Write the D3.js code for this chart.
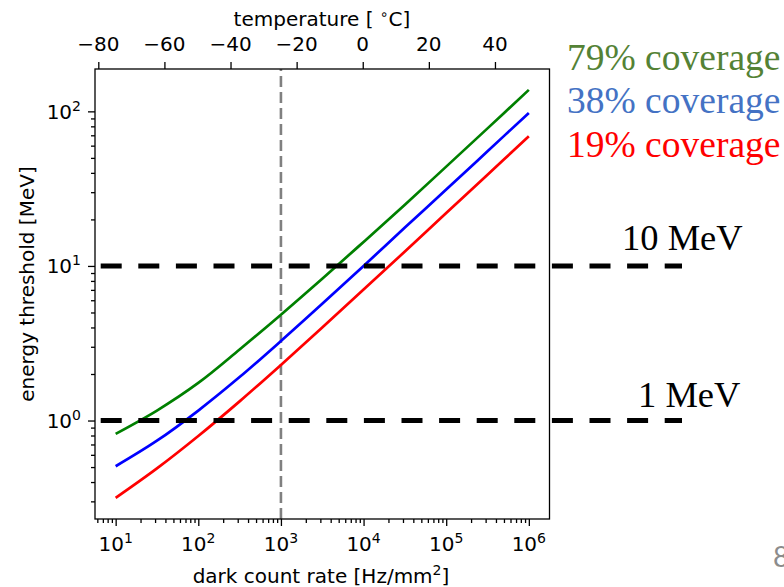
<!DOCTYPE html>
<html>
<head>
<meta charset="utf-8">
<script src="https://cdn.jsdelivr.net/npm/d3@7"></script>
<style>
  body { margin: 0; background: #fff; }
</style>
</head>
<body>
<div id="chart"></div>
<script>
// dark count rate [Hz/mm^2], read at half decades
var rate = [10, 31.6, 100, 316, 1000, 3162, 10000, 31623, 100000, 316228, 1000000];
// energy threshold [MeV] per coverage
var cov79 = [0.82, 1.16, 1.75, 2.88, 4.84, 8.26, 14.3, 24.9, 43.9, 77.6, 137.7];
var cov38 = [0.506, 0.74, 1.16, 1.91, 3.27, 5.69, 10.0, 17.7, 31.2, 55.2, 97.7];
var cov19 = [0.316, 0.49, 0.794, 1.33, 2.29, 4.0, 7.03, 12.4, 22.0, 38.9, 69.0];

var seriesNames = ["79% coverage", "38% coverage", "19% coverage"];
var lineColors = ["#008000", "#0000ff", "#ff0000"];
var textColors = ["#548235", "#4472c4", "#ff0000"];

var xMajor = [1e1, 1e2, 1e3, 1e4, 1e5, 1e6];
var yMajor = [1e0, 1e1, 1e2];
var tempTicks = [-80, -60, -40, -20, 0, 20, 40];
var thresholds = [10, 1];
var thresholdLabels = ["10 MeV", "1 MeV"];
var darkRateMark = 1000;

const W = 784, H = 587;
const pL = 95, pR = 549.5, pT = 69, pB = 519;
const sans = "'DejaVu Sans', sans-serif";
const serif = "'Liberation Serif', 'Times New Roman', serif";

const svg = d3.select("#chart").append("svg")
    .attr("width", W)
    .attr("height", H);

const x = d3.scaleLog().domain([Math.pow(10, 0.75), Math.pow(10, 6.25)]).range([pL, pR]);
const y = d3.scaleLog().domain([Math.pow(10, -0.637), Math.pow(10, 2.274)]).range([pB, pT]);
const xt = d3.scaleLinear().domain([-81, 56.5]).range([pL, pR]);

// minor ticks
const xMinor = x.ticks().filter(v => xMajor.indexOf(v) < 0);
const yMinor = y.ticks().filter(v => yMajor.indexOf(v) < 0);

function tickAxis(axis, g) {
    g.call(axis);
    g.select(".domain").remove();
    g.selectAll("line").attr("stroke", "#000").attr("stroke-width", 1.3);
}

tickAxis(d3.axisBottom(x).tickValues(xMinor).tickSize(4).tickFormat(""),
    svg.append("g").attr("transform", `translate(0,${pB})`));
tickAxis(d3.axisBottom(x).tickValues(xMajor).tickSize(7).tickFormat(""),
    svg.append("g").attr("transform", `translate(0,${pB})`));
tickAxis(d3.axisLeft(y).tickValues(yMinor).tickSize(4).tickFormat(""),
    svg.append("g").attr("transform", `translate(${pL},0)`));
tickAxis(d3.axisLeft(y).tickValues(yMajor).tickSize(7).tickFormat(""),
    svg.append("g").attr("transform", `translate(${pL},0)`));
tickAxis(d3.axisTop(xt).tickValues(tempTicks).tickSize(7).tickFormat(""),
    svg.append("g").attr("transform", `translate(0,${pT})`));

// power-of-ten labels
function powLabel(sel, v) {
    const e = Math.round(Math.log10(v));
    sel.append("tspan").text("10");
    sel.append("tspan").attr("dy", -8).style("font-size", "14px").text(e);
}
xMajor.forEach(v => {
    const t = svg.append("text")
        .attr("x", x(v)).attr("y", 550.5)
        .attr("text-anchor", "middle")
        .style("font-family", sans).style("font-size", "20px");
    powLabel(t, v);
});
yMajor.forEach(v => {
    const t = svg.append("text")
        .attr("x", 81).attr("y", y(v) + 7.5)
        .attr("text-anchor", "end")
        .style("font-family", sans).style("font-size", "20px");
    powLabel(t, v);
});
svg.append("g").selectAll("text").data(tempTicks).join("text")
    .attr("x", d => xt(d)).attr("y", 51)
    .attr("text-anchor", "middle")
    .style("font-family", sans).style("font-size", "20px")
    .text(d => d3.format("d")(d));

// axis titles
svg.append("text")
    .attr("x", 321).attr("y", 582.5)
    .attr("text-anchor", "middle")
    .style("font-family", sans).style("font-size", "20px")
    .call(t => {
        t.append("tspan").text("dark count rate [Hz/mm");
        t.append("tspan").attr("dy", -8).style("font-size", "14px").text("2");
        t.append("tspan").attr("dy", 8).text("]");
    });
svg.append("text")
    .attr("transform", "translate(34,284) rotate(-90)")
    .attr("text-anchor", "middle")
    .style("font-family", sans).style("font-size", "20px")
    .text("energy threshold [MeV]");
svg.append("text")
    .attr("x", 322).attr("y", 26)
    .attr("text-anchor", "middle")
    .style("font-family", sans).style("font-size", "20px")
    .call(t => {
        t.append("tspan").text("temperature [ ");
        t.append("tspan").attr("dy", -7).style("font-size", "14px").text("\u2218");
        t.append("tspan").attr("dy", 7).text("C]");
    });

// vertical marker
svg.append("line")
    .attr("x1", x(darkRateMark)).attr("x2", x(darkRateMark))
    .attr("y1", pB).attr("y2", pT)
    .attr("stroke", "#808080")
    .attr("stroke-width", 2.6)
    .attr("stroke-dasharray", "11,5");

// curves
const line = d3.line()
    .x((d, i) => x(rate[i]))
    .y(d => y(d))
    .curve(d3.curveCatmullRom);

[cov79, cov38, cov19].forEach((s, i) => {
    svg.append("path")
        .attr("d", line(s))
        .attr("fill", "none")
        .attr("stroke", lineColors[i])
        .attr("stroke-width", 2.7);
});

// frame
svg.append("rect")
    .attr("x", pL).attr("y", pT)
    .attr("width", pR - pL).attr("height", pB - pT)
    .attr("fill", "none").attr("stroke", "#000").attr("stroke-width", 1.3);

// threshold overlays
thresholds.forEach((v, i) => {
    svg.append("line")
        .attr("x1", 100.7).attr("x2", 682)
        .attr("y1", y(v)).attr("y2", y(v))
        .attr("stroke", "#000")
        .attr("stroke-width", 5)
        .attr("stroke-dasharray", "21,16.6");
    svg.append("text")
        .attr("x", i === 0 ? 622 : 638)
        .attr("y", i === 0 ? 250 : 407)
        .style("font-family", serif).style("font-size", "36.5px")
        .attr("fill", "#000")
        .text(thresholdLabels[i]);
});

// legend
seriesNames.forEach((n, i) => {
    svg.append("text")
        .attr("x", 567)
        .attr("y", 70 + i * 43.3)
        .style("font-family", serif).style("font-size", "37.5px")
        .attr("fill", textColors[i])
        .text(n);
});

// slide page number (cut by the right edge, as in the slide)
svg.append("text")
    .attr("x", 773).attr("y", 567)
    .style("font-family", "Lato, sans-serif").style("font-size", "28px")
    .attr("fill", "#8c8c8c")
    .text("8");
</script>
</body>
</html>
